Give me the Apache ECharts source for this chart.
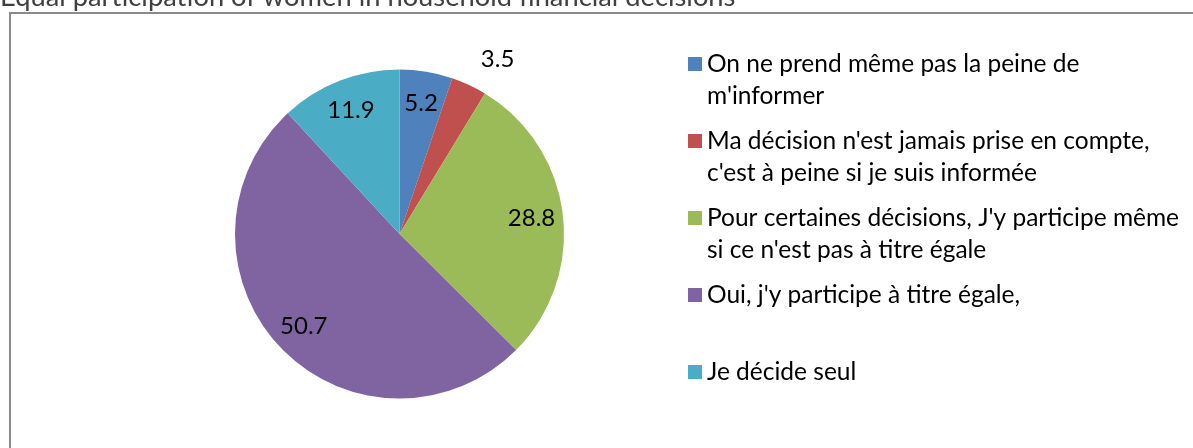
<!DOCTYPE html>
<html>
<head>
<meta charset="utf-8">
<script src="https://cdn.jsdelivr.net/npm/echarts@6/dist/echarts.min.js"></script>
<style>
  html, body { margin: 0; padding: 0; background: #fff; }
  #chart { width: 1193px; height: 448px; }
</style>
</head>
<body>
<div id="chart"></div>
<script>
const chartTitle = 'Equal participation of women in household financial decisions'
// legend names, broken where the legend wraps them
const categories = [
  "On ne prend même pas la peine de\nm'informer",
  "Ma décision n'est jamais prise en compte,\nc'est à peine si je suis informée",
  "Pour certaines décisions, J'y participe même\nsi ce n'est pas à titre égale",
  "Oui, j'y participe à titre égale,",
  'Je décide seul'
]
const values = [5.2, 3.5, 28.8, 50.7, 11.9]
const colors = ['#4F81BD', '#C0504D', '#9BBB59', '#8064A2', '#4BACC6']

const FONT = 'Lato'
const center = [399.5, 234]
const R = 164.5

// small slices get their label outside the pie
const isSmall = v => v < 5

const chart = echarts.init(document.getElementById('chart'))

chart.setOption({
  animation: false,
  title: {
    text: chartTitle,
    left: 0,
    top: -16,
    padding: 0,
    textStyle: { fontFamily: FONT, fontSize: 27.3, fontWeight: 'normal', color: '#404040' }
  },
  graphic: [{
    type: 'rect',
    shape: { x: 10, y: 13, width: 1300, height: 500 },
    style: { fill: 'none', stroke: '#8a8a8a', lineWidth: 2 },
    silent: true
  }],
  legend: {
    orient: 'vertical',
    left: 688,
    top: 48,
    padding: 0,
    itemGap: 13,
    itemWidth: 14,
    itemHeight: 46,
    // square sits on the first text line
    icon: 'path://M0,0h14v14H0zM0,46L14,46',
    itemStyle: { borderWidth: 0 },
    data: categories,
    formatter: name => name.indexOf('\n') < 0 ? name + '\n' : name,
    textStyle: { fontFamily: FONT, fontSize: 24.5, lineHeight: 32, color: '#000' },
    selectedMode: false
  },
  series: [
    {
      type: 'pie',
      center: center,
      radius: [0, R],
      startAngle: 90,
      avoidLabelOverlap: false,
      itemStyle: { borderWidth: 0 },
      emphasis: { disabled: true },
      labelLine: { show: false, length: 28, length2: 0 },
      data: values.map((v, i) => ({
        name: categories[i],
        value: v,
        itemStyle: { color: colors[i] },
        label: {
          show: isSmall(v),
          position: 'outside',
          distanceToLabelLine: 0,
          formatter: '{c}',
          fontFamily: FONT,
          fontSize: 24,
          color: '#000'
        }
      }))
    },
    {
      // transparent ring that only carries the inside labels
      type: 'pie',
      center: center,
      radius: [95.5, R],
      startAngle: 90,
      silent: true,
      legendHoverLink: false,
      avoidLabelOverlap: false,
      itemStyle: { color: 'rgba(0,0,0,0)', borderWidth: 0 },
      emphasis: { disabled: true },
      labelLine: { show: false },
      data: values.map((v, i) => ({
        name: categories[i],
        value: v,
        label: {
          show: !isSmall(v),
          position: 'inside',
          formatter: '{c}',
          fontFamily: FONT,
          fontSize: 24,
          color: '#000'
        }
      }))
    }
  ]
})
</script>
</body>
</html>
